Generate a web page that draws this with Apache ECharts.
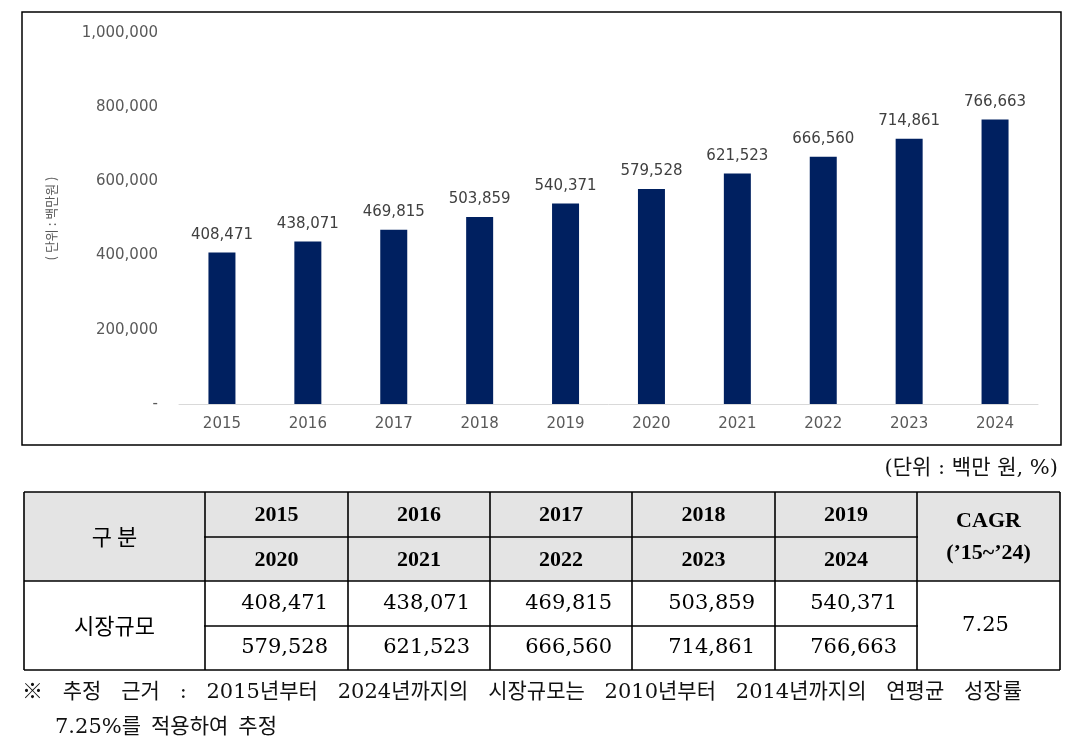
<!DOCTYPE html>
<html><head><meta charset="utf-8">
<script src="https://cdn.jsdelivr.net/npm/echarts@6/dist/echarts.min.js"></script>
<style>html,body{margin:0;padding:0;background:#fff}#c{width:1080px;height:755px}</style>
</head><body><div id="c"></div>
<script>
// ---- data ----
const years = ['2015','2016','2017','2018','2019','2020','2021','2022','2023','2024'];
const marketSize = [408471, 438071, 469815, 503859, 540371, 579528, 621523, 666560, 714861, 766663];
const cagrLabel = ['CAGR', '(\u201915~\u201924)'];
const cagrValue = '7.25';
const rowHeader = '구 분';
const rowLabel = '시장규모';
const unitNote = '(단위 : 백만 원, %)';
const axisName = '( 단위 : 백만원 )';
const footnoteLine1 = ['※','추정','근거',':','2015년부터','2024년까지의','시장규모는','2010년부터','2014년까지의','연평균','성장률'];
const footnoteLine2 = ['7.25%를','적용하여','추정'];

// ---- helpers ----
const fmt = v => v.toLocaleString('en-US');
const chartFont = '"DejaVu Sans", "Noto Sans CJK KR", sans-serif';
const serifFont = '"DejaVu Serif", "Noto Sans CJK KR", serif';
const boldSerif = '"Liberation Serif", "Noto Sans CJK KR", serif';
const korFont = '"Noto Sans CJK KR", sans-serif';

const mctx = document.createElement('canvas').getContext('2d');
function measure(t, size, fam){ mctx.font = size + 'px ' + fam; return mctx.measureText(t).width; }

const graphics = [];
// chart frame
graphics.push({type:'rect', silent:true, z:-1, shape:{x:22, y:12, width:1039, height:433},
  style:{fill:'none', stroke:'#000', lineWidth:1.5}});

// unit note
graphics.push({type:'text', x:1058, y:469, style:{text:unitNote, align:'right', verticalAlign:'middle',
  font:'21px ' + serifFont, fill:'#111'}});

// table geometry
const colX = [24, 205, 348, 490, 632, 775, 917, 1060];
const rowY = [492, 537, 581, 626, 670];
graphics.push({type:'rect', silent:true, shape:{x:colX[0], y:rowY[0], width:colX[7]-colX[0], height:rowY[2]-rowY[0]},
  style:{fill:'#e4e4e4'}});
const L = (x1,y1,x2,y2) => graphics.push({type:'line', silent:true, z:5, shape:{x1,y1,x2,y2}, style:{stroke:'#000', lineWidth:1.6}});
L(colX[0], rowY[0], colX[7], rowY[0]);
L(colX[0], rowY[2], colX[7], rowY[2]);
L(colX[0], rowY[4], colX[7], rowY[4]);
colX.forEach(x => L(x, rowY[0], x, rowY[4]));
L(colX[1]-1, rowY[1], colX[6]+1, rowY[1]);
L(colX[1]-1, rowY[3], colX[6]+1, rowY[3]);

const T = (text, x, y, font, align) => graphics.push({type:'text', z:6, x, y,
  style:{text, align: align || 'center', verticalAlign:'middle', font, fill:'#000'}});
const midY = i => (rowY[i] + rowY[i+1]) / 2;
T(rowHeader, (colX[0]+colX[1])/2, (rowY[0]+rowY[2])/2, '22px ' + korFont);
T(rowLabel, (colX[0]+colX[1])/2, (rowY[2]+rowY[4])/2, '22px ' + korFont);
for (let i = 0; i < 5; i++) {
  const cx = (colX[i+1] + colX[i+2]) / 2;
  T(years[i], cx, midY(0) + 1, 'bold 22px ' + boldSerif);
  T(years[i+5], cx, midY(1) + 1, 'bold 22px ' + boldSerif);
  T(fmt(marketSize[i]), colX[i+2] - 20, midY(2), '21px ' + serifFont, 'right');
  T(fmt(marketSize[i+5]), colX[i+2] - 20, midY(3), '21px ' + serifFont, 'right');
}
const cagrX = (colX[6] + colX[7]) / 2;
T(cagrLabel[0], cagrX, 521, 'bold 22px ' + boldSerif);
T(cagrLabel[1], cagrX, 553, 'bold 22px ' + boldSerif);
T(cagrValue, cagrX - 3, (rowY[2]+rowY[4])/2, '21px ' + serifFont);

// footnote (justified first line)
const fnSize = 21;
function placeWords(words, x0, y, gapOrRight) {
  const widths = words.map(w => measure(w, fnSize, serifFont));
  const totalW = widths.reduce((a,b)=>a+b, 0);
  const gap = gapOrRight.right ? (gapOrRight.right - x0 - totalW) / (words.length - 1) : gapOrRight.gap;
  let fx = x0;
  words.forEach((w, i) => {
    graphics.push({type:'text', x:fx, y, style:{text:w, align:'left', verticalAlign:'middle', font: fnSize + 'px ' + serifFont, fill:'#111'}});
    fx += widths[i] + gap;
  });
}
placeWords(footnoteLine1, 22, 693, {right:1022});
placeWords(footnoteLine2, 55, 728, {gap:10});

const chart = echarts.init(document.getElementById('c'), null, {renderer:'canvas'});
chart.setOption({
  animation:false,
  backgroundColor:'#fff',
  grid:{left:179, right:42, top:33, bottom:351},
  xAxis:{type:'category', data:years,
    axisLine:{lineStyle:{color:'#d9d9d9', width:1}},
    axisTick:{show:false},
    axisLabel:{color:'#595959', fontSize:15, fontFamily:chartFont, margin:13}},
  yAxis:{type:'value', min:0, max:1000000, interval:200000,
    name:axisName, nameLocation:'middle', nameRotate:90, nameGap:121,
    nameTextStyle:{color:'#595959', fontSize:13, fontFamily:korFont},
    axisLine:{show:false}, axisTick:{show:false}, splitLine:{show:false},
    axisLabel:{color:'#595959', fontSize:15, fontFamily:chartFont, margin:21,
      formatter: v => v === 0 ? '-' : fmt(v)}},
  series:[{type:'bar', data:marketSize, barWidth:27,
    itemStyle:{color:'#002060'},
    label:{show:true, position:'top', distance:10, color:'#404040', fontSize:15, fontFamily:chartFont,
      formatter: p => fmt(p.value)}}],
  graphic: graphics
});
</script></body></html>
